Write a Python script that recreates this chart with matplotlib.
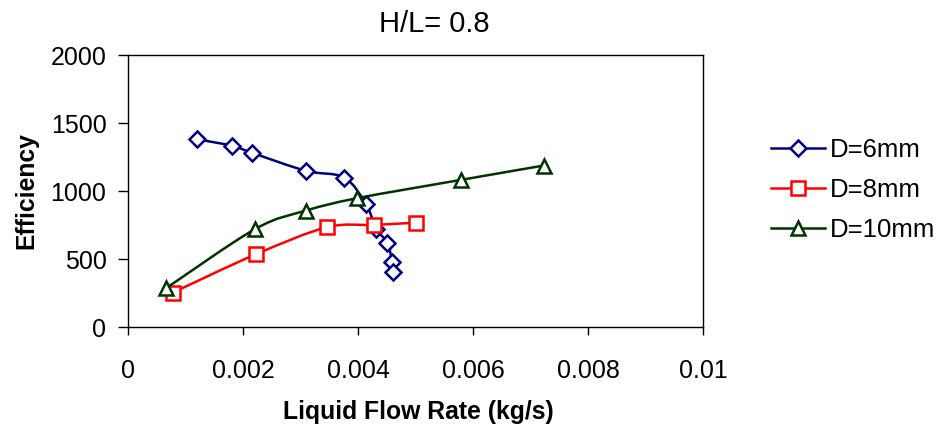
import numpy as np
import matplotlib
matplotlib.use("Agg")
import matplotlib.pyplot as plt
from matplotlib.path import Path
from matplotlib.patches import PathPatch
from matplotlib.lines import Line2D

plt.rcParams['font.family'] = ['Liberation Sans', 'DejaVu Sans']

# ---- data ----
title = "H/L= 0.8"
x_label = "Liquid Flow Rate (kg/s)"
y_label = "Efficiency"
series_names = ["D=6mm", "D=8mm", "D=10mm"]

x_d6 = [0.001195, 0.001814, 0.002162, 0.003096, 0.003757, 0.00414, 0.00431, 0.00451, 0.00459, 0.00460]
y_d6 = [1384, 1335, 1283, 1151, 1102, 905, 725, 622, 477, 407]

x_d8 = [0.000777, 0.002226, 0.003456, 0.004278, 0.005003]
y_d8 = [255, 538, 736, 753, 770]

x_d10 = [0.000661, 0.002214, 0.003096, 0.003983, 0.005791, 0.007223]
y_d10 = [287, 724, 859, 950, 1085, 1190]

x_ticks = [0, 0.002, 0.004, 0.006, 0.008, 0.01]
x_tick_labels = ["0", "0.002", "0.004", "0.006", "0.008", "0.01"]
y_ticks = [0, 500, 1000, 1500, 2000]
y_tick_labels = ["0", "500", "1000", "1500", "2000"]


def smooth_path(xs, ys):
    pts = np.column_stack([xs, ys]).astype(float)
    n = len(pts)
    verts = [pts[0]]
    codes = [Path.MOVETO]
    for i in range(n - 1):
        p0 = pts[i - 1] if i > 0 else pts[i]
        p1 = pts[i]
        p2 = pts[i + 1]
        p3 = pts[i + 2] if i + 2 < n else pts[i + 1]
        c1 = p1 + (p2 - p0) / 6.0
        c2 = p2 - (p3 - p1) / 6.0
        verts += [c1, c2, p2]
        codes += [Path.CURVE4] * 3
    return Path(verts, codes)


fig = plt.figure(figsize=(9.42, 4.36), dpi=100)
ax = fig.add_axes([128 / 942, 1 - 327.3 / 436, 575.3 / 942, 271.8 / 436])

styles = [
    dict(color="#000080", marker="D", ms=8.4),
    dict(color="#FF0000", marker="s", ms=9.6),
    dict(color="#003300", marker="^", ms=10.2),
]
data = [(x_d6, y_d6), (x_d8, y_d8), (x_d10, y_d10)]
LW = 1.8

handles = []
for k, ((xs, ys), st, name) in enumerate(zip(data, styles, series_names)):
    z = 3 + k
    patch = PathPatch(smooth_path(xs, ys), facecolor="none", edgecolor=st["color"],
                      lw=LW, zorder=z, capstyle="round", joinstyle="round")
    ax.add_patch(patch)
    ax.plot(xs, ys, linestyle="none", marker=st["marker"], ms=st["ms"],
            mfc="white", mec=st["color"], mew=LW, zorder=z + 0.5)
    handles.append(Line2D([], [], color=st["color"], lw=LW, marker=st["marker"],
                          ms=st["ms"], mfc="white", mec=st["color"], mew=LW,
                          label=name))

ax.set_xlim(0, 0.01)
ax.set_ylim(0, 2000)
ax.set_xticks(x_ticks)
ax.set_xticklabels(x_tick_labels)
ax.set_yticks(y_ticks)
ax.set_yticklabels(y_tick_labels)

for sp in ax.spines.values():
    sp.set_linewidth(1.0)
    sp.set_color("black")

ax.tick_params(axis="x", direction="out", length=6, width=1.0, pad=16.5, labelsize=18)
ax.tick_params(axis="y", direction="out", length=7, width=1.0, pad=8.5, labelsize=18)

ax.set_xlabel(x_label, fontsize=17.8, fontweight="bold", va="center")
ax.xaxis.set_label_coords(0.504, -0.3116)
ax.set_ylabel(y_label, fontsize=17.8, fontweight="bold", va="center")
ax.yaxis.set_label_coords(-0.1773, 0.502)

fig.text(434 / 942, 1 - 23.8 / 436, title, fontsize=21, ha="center", va="center")

fig.legend(handles=handles, loc="center left", bbox_to_anchor=(770.7 / 942, 1 - 190.3 / 436),
           frameon=False, fontsize=18.5, handlelength=2.1, handletextpad=0.22,
           labelspacing=0.63, borderpad=0, borderaxespad=0)

fig.savefig("out.png", dpi=100, facecolor="white")
